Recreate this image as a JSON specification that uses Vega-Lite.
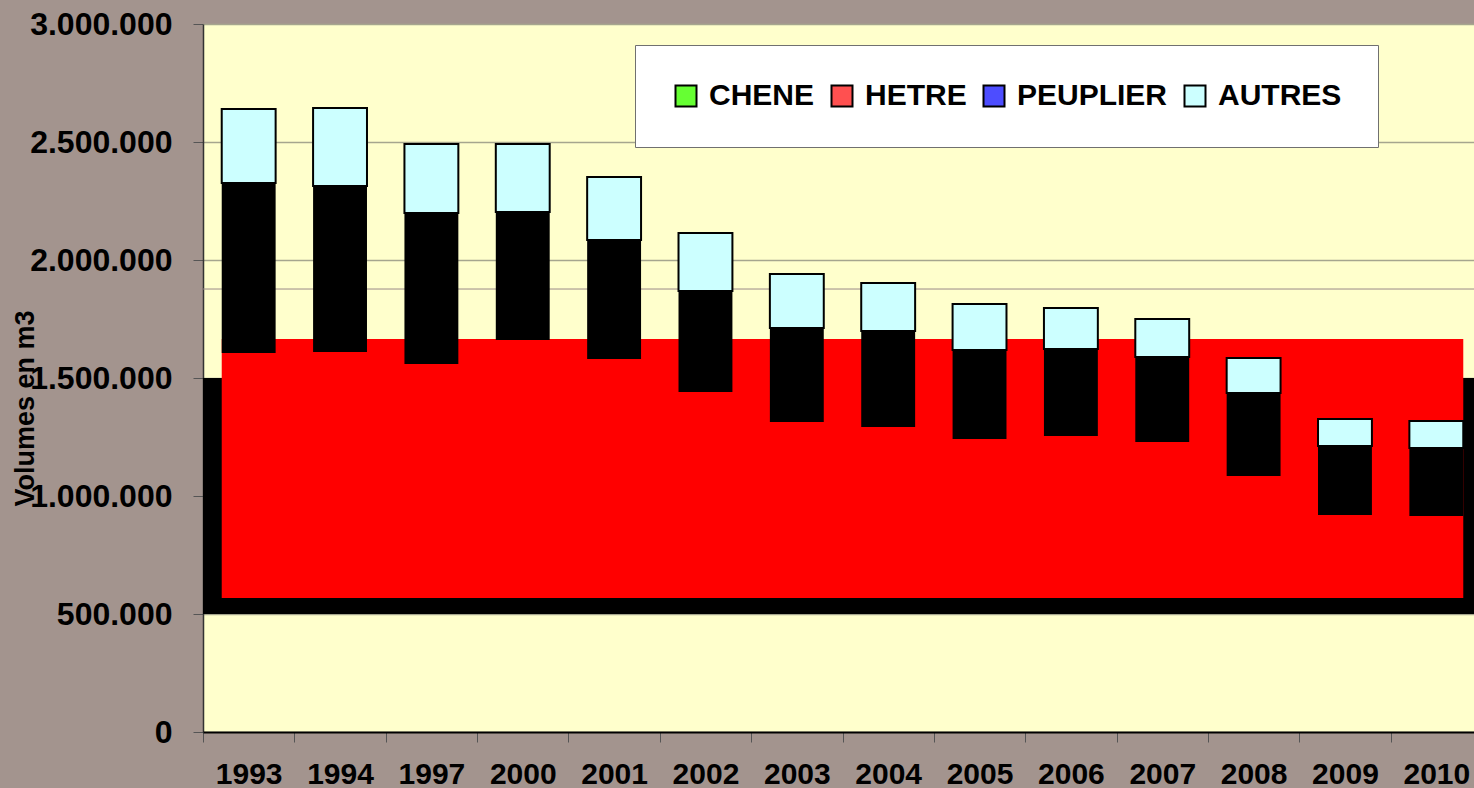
{
  "$schema": "https://vega.github.io/schema/vega-lite/v6.json",
  "width": 1271,
  "height": 708,
  "autosize": {"type": "none"},
  "padding": {"left": 203, "top": 24, "right": 0, "bottom": 56},
  "background": "#A3948E",
  "config": {
    "view": {"fill": "#FFFFCC", "stroke": null},
    "font": "Liberation Sans"
  },
  "datasets": {
    "barres": [
      {"annee": "1993", "bas": 1606000, "milieu": 2326000, "haut": 2640000, "essence": "AUTRES"},
      {"annee": "1994", "bas": 1610000, "milieu": 2314000, "haut": 2644000, "essence": "AUTRES"},
      {"annee": "1997", "bas": 1559000, "milieu": 2199000, "haut": 2492000, "essence": "AUTRES"},
      {"annee": "2000", "bas": 1661000, "milieu": 2203000, "haut": 2492000, "essence": "AUTRES"},
      {"annee": "2001", "bas": 1581000, "milieu": 2085000, "haut": 2352000, "essence": "AUTRES"},
      {"annee": "2002", "bas": 1441000, "milieu": 1869000, "haut": 2114000, "essence": "AUTRES"},
      {"annee": "2003", "bas": 1314000, "milieu": 1712000, "haut": 1941000, "essence": "AUTRES"},
      {"annee": "2004", "bas": 1292000, "milieu": 1699000, "haut": 1903000, "essence": "AUTRES"},
      {"annee": "2005", "bas": 1242000, "milieu": 1619000, "haut": 1814000, "essence": "AUTRES"},
      {"annee": "2006", "bas": 1254000, "milieu": 1623000, "haut": 1797000, "essence": "AUTRES"},
      {"annee": "2007", "bas": 1229000, "milieu": 1589000, "haut": 1750000, "essence": "AUTRES"},
      {"annee": "2008", "bas": 1085000, "milieu": 1436000, "haut": 1585000, "essence": "AUTRES"},
      {"annee": "2009", "bas": 919000, "milieu": 1212000, "haut": 1326000, "essence": "AUTRES"},
      {"annee": "2010", "bas": 915000, "milieu": 1203000, "haut": 1318000, "essence": "AUTRES"}
    ],
    "fondNoir": [{"bas": 500000, "haut": 1500000}],
    "fondRouge": [{"debut": "1993", "fin": "2010", "bas": 568000, "haut": 1665000}],
    "ligne": [{"v": 1877000}]
  },
  "layer": [
    {
      "data": {"name": "fondNoir"},
      "mark": {"type": "rect", "fill": "#000000"},
      "encoding": {
        "x": {"value": 0},
        "x2": {"value": "width"},
        "y": {"field": "bas", "type": "quantitative", "title": "Volumes en m3"},
        "y2": {"field": "haut"}
      }
    },
    {
      "data": {"name": "fondRouge"},
      "mark": {"type": "rect", "fill": "#FF0000"},
      "encoding": {
        "x": {"field": "debut", "type": "nominal", "bandPosition": 0},
        "x2": {"field": "fin", "bandPosition": 1},
        "y": {"field": "bas", "type": "quantitative", "title": "Volumes en m3"},
        "y2": {"field": "haut"}
      }
    },
    {
      "data": {"name": "ligne"},
      "mark": {"type": "rule", "color": "#9A8A8A", "strokeWidth": 1},
      "encoding": {
        "y": {"field": "v", "type": "quantitative", "title": "Volumes en m3"}
      }
    },
    {
      "data": {"name": "barres"},
      "mark": {"type": "bar", "fill": "#000000"},
      "encoding": {
        "x": {
          "field": "annee",
          "type": "nominal",
          "scale": {
            "domain": ["1993", "1994", "1997", "2000", "2001", "2002", "2003", "2004", "2005", "2006", "2007", "2008", "2009", "2010"],
            "range": [0, 1279],
            "paddingInner": 0.41,
            "paddingOuter": 0.205
          },
          "axis": {
            "title": null,
            "labelAngle": 0,
            "labelAlign": "center",
            "labelFont": "Liberation Sans",
            "labelFontSize": 30,
            "labelFontWeight": "bold",
            "labelColor": "#000000",
            "labelPadding": 32,
            "bandPosition": 0.5,
            "tickOffset": -45.65,
            "labelOffset": 45.65,
            "tickSize": 10,
            "tickColor": "#555555",
            "domainColor": "#000000",
            "domainWidth": 2,
            "grid": false
          }
        },
        "y": {
          "field": "bas",
          "type": "quantitative",
          "title": "Volumes en m3",
          "scale": {"domain": [0, 3000000], "nice": false, "zero": true},
          "axis": {
            "values": [0, 500000, 1000000, 1500000, 2000000, 2500000, 3000000],
            "labelExpr": "replace(format(datum.value, ','), regexp(',', 'g'), '.')",
            "labelFont": "Liberation Sans",
            "labelFontSize": 32,
            "labelFontWeight": "bold",
            "labelColor": "#000000",
            "labelPadding": 21,
            "tickSize": 10,
            "tickColor": "#555555",
            "domainColor": "#333333",
            "domainWidth": 1.5,
            "grid": true,
            "gridColor": "#A6A68E",
            "gridWidth": 1.5,
            "titleFont": "Liberation Sans",
            "titleFontSize": 27,
            "titleFontWeight": "bold",
            "titleColor": "#000000",
            "titleAngle": 270,
            "titleAlign": "center",
            "titleBaseline": "middle",
            "titleX": -178,
            "titleY": 384
          }
        },
        "y2": {"field": "milieu"}
      }
    },
    {
      "data": {"name": "barres"},
      "mark": {"type": "bar", "stroke": "#000000", "strokeWidth": 2},
      "encoding": {
        "x": {"field": "annee", "type": "nominal"},
        "y": {"field": "milieu", "type": "quantitative", "title": "Volumes en m3"},
        "y2": {"field": "haut"},
        "fill": {
          "field": "essence",
          "type": "nominal",
          "scale": {
            "domain": ["CHENE", "HETRE", "PEUPLIER", "AUTRES"],
            "range": ["#66FF33", "#FF5050", "#4D4DFF", "#CCFFFF"]
          },
          "legend": {
            "orient": "none",
            "legendX": 432,
            "legendY": 21,
            "direction": "horizontal",
            "title": null,
            "padding": 36,
            "fillColor": "#FFFFFF",
            "strokeColor": "#707070",
            "symbolType": "square",
            "symbolSize": 441,
            "symbolStrokeColor": "#000000",
            "symbolStrokeWidth": 2,
            "symbolOpacity": 1,
            "labelFont": "Liberation Sans",
            "labelFontSize": 30,
            "labelFontWeight": "bold",
            "labelColor": "#000000",
            "labelOffset": 8,
            "columnPadding": 12
          }
        }
      }
    }
  ]
}
